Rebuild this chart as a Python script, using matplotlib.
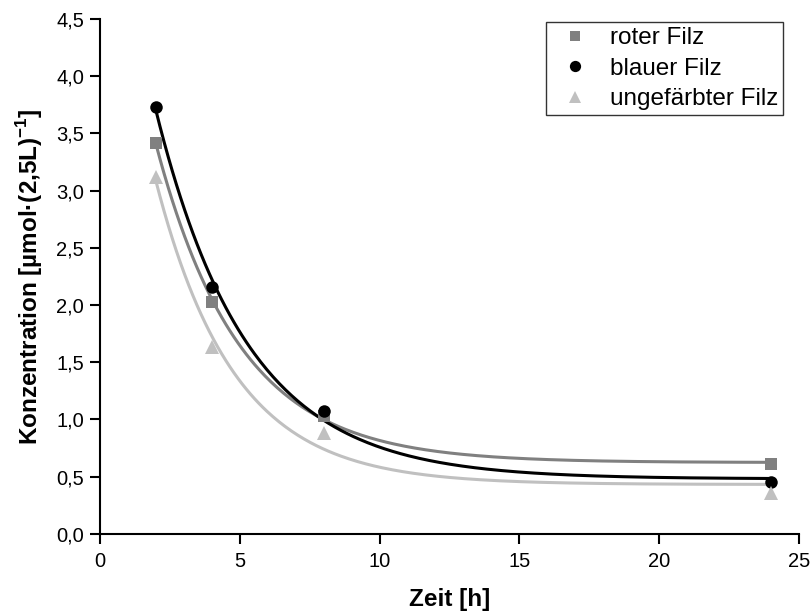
import numpy as np
import matplotlib
matplotlib.use("Agg")
from matplotlib import pyplot as plt
from matplotlib.ticker import FuncFormatter, MultipleLocator

plt.rcParams['font.family'] = ['Liberation Sans', 'DejaVu Sans']
plt.rcParams['mathtext.fontset'] = 'custom'
plt.rcParams['mathtext.rm'] = 'Liberation Sans'
plt.rcParams['mathtext.bf'] = 'Liberation Sans:bold'

# Messwerte
zeit = [2, 4, 8, 24]
roter_filz = [3.42, 2.03, 1.03, 0.61]
blauer_filz = [3.73, 2.16, 1.07, 0.45]
ungefaerbt = [3.12, 1.63, 0.88, 0.36]

labels = ['roter Filz', 'blauer Filz', 'ungefärbter Filz']
colors = ['#808080', '#000000', '#c0c0c0']
markers = ['s', 'o', '^']
msizes = [8, 9, 9.5]


def expfit(x, y):
    # y = y0 + A*exp(-x/t), t per Gittersuche, y0/A linear
    x = np.asarray(x, float)
    y = np.asarray(y, float)
    best = None
    for t in np.linspace(0.5, 15, 2000):
        M = np.column_stack([np.ones_like(x), np.exp(-x / t)])
        coef, res, _, _ = np.linalg.lstsq(M, y, rcond=None)
        err = np.sum((M @ coef - y) ** 2)
        if best is None or err < best[0]:
            best = (err, coef[0], coef[1], t)
    return best[1:]


fig = plt.figure(figsize=(8.12, 6.15), dpi=100)
ax = fig.add_axes([0.123, 0.132, 0.861, 0.837])

xs = np.linspace(min(zeit), max(zeit), 300)
handles = []
for ys, lab, c, m, ms in zip([roter_filz, blauer_filz, ungefaerbt], labels, colors, markers, msizes):
    y0, A, t = expfit(zeit, ys)
    ax.plot(xs, y0 + A * np.exp(-xs / t), color=c, lw=2.2, zorder=2)
    h, = ax.plot(zeit, ys, ls='none', marker=m, color=c, ms=ms, mew=0,
                 label=lab, zorder=3)
    handles.append(h)

ax.set_xlim(0, 25)
ax.set_ylim(0, 4.5)
ax.xaxis.set_major_locator(MultipleLocator(5))
ax.yaxis.set_major_locator(MultipleLocator(0.5))
ax.xaxis.set_major_formatter(FuncFormatter(lambda v, p: '%d' % v))
ax.yaxis.set_major_formatter(FuncFormatter(lambda v, p: ('%.1f' % v).replace('.', ',')))

for s in ['top', 'right']:
    ax.spines[s].set_visible(False)
for s in ['left', 'bottom']:
    ax.spines[s].set_linewidth(1.5)
ax.tick_params(direction='out', length=7.5, width=1.5, labelsize=14.5)
ax.tick_params(axis='x', pad=5.8)
ax.tick_params(axis='y', pad=4)

ax.set_xlabel('Zeit [h]', fontsize=17.5, fontweight='bold', labelpad=12)
ax.set_ylabel(r'Konzentration [µmol·(2,5L)$^{\mathbf{-1}}$]', fontsize=17.5,
              fontweight='bold', labelpad=8)

leg = ax.legend(handles=handles, loc='upper right', bbox_to_anchor=(0.977, 0.994),
                fontsize=17.5, frameon=True, fancybox=False, edgecolor='black',
                handletextpad=0.43, borderpad=0.2, labelspacing=0.35,
                handlelength=2.0, borderaxespad=0, markerscale=0.9)
leg.get_frame().set_linewidth(1.0)

fig.savefig('out.png', dpi=100)
